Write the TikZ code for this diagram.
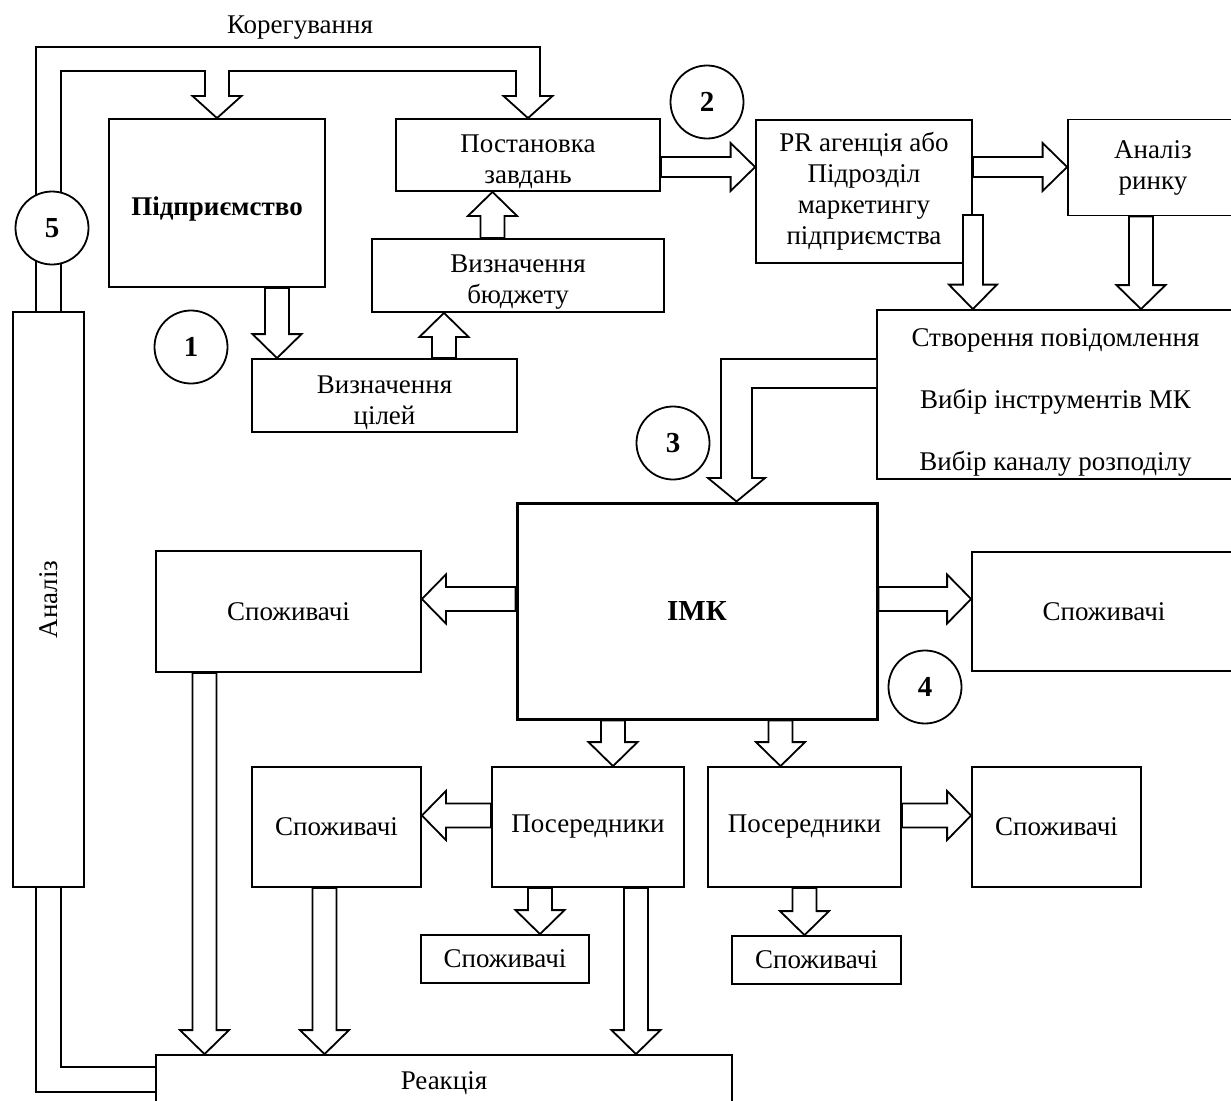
\documentclass[tikz,border=0pt]{standalone}
\usepackage{fontspec}
\setmainfont{Liberation Serif}
\usetikzlibrary{calc}

% block ("hollow") arrow: shaft half-width, head half-width, head length, start, tip
\newcommand\barrowx[5]{%
  \coordinate (bS) at (#4);
  \coordinate (bT) at (#5);
  \coordinate (bH) at ($(bT)!#3!(bS)$);
  \filldraw[flow, fill=white]
    ($(bS)!#1!90:(bT)$) -- ($(bH)!#1!90:(bT)$) -- ($(bH)!#2!90:(bT)$) -- (bT)
    -- ($(bH)!#2!-90:(bT)$) -- ($(bH)!#1!-90:(bT)$) -- ($(bS)!#1!-90:(bT)$) -- cycle;}
\newcommand\barrow[2]{\barrowx{12bp}{24.5bp}{24bp}{#1}{#2}}
\newcommand\barrowthin[2]{\barrowx{10bp}{24bp}{24.5bp}{#1}{#2}}

\tikzset{
  flow/.style={line width=1.8bp, line join=miter},
  txt/.style={inner sep=0pt, align=center, font=\fontsize{27bp}{31bp}\selectfont},
  blk/.style={draw, line width=1.8bp, fill=white, inner sep=0pt, align=center,
              font=\fontsize{27bp}{31bp}\selectfont},
  num/.style={draw, circle, line width=1.8bp, fill=white, minimum size=73bp,
              inner sep=0pt, font=\bfseries\fontsize{29bp}{30bp}\selectfont},
}

\begin{document}
\begin{tikzpicture}[x=1bp, y=-1bp]
\useasboundingbox (0,0) rectangle (1231,1101);
\fill[white] (0,0) rectangle (1231,1101);
\clip (0,0) rectangle (1231,1101);

% ---- blocks ----
\node[blk, minimum width=216bp, minimum height=168bp,
      label={[txt, font=\bfseries\fontsize{27bp}{31bp}\selectfont, yshift=-6bp]center:Підприємство}]
  (ent) at (217,203) {};
\node[blk, minimum width=264bp, minimum height=72bp,
      label={[txt, yshift=-7bp]center:{Постановка\\завдань}}] (tasks) at (528,155) {};
\node[blk, minimum width=292bp, minimum height=73bp,
      label={[txt, yshift=-7bp]center:{Визначення\\бюджету}}] (budget) at (518,275.5) {};
\node[blk, minimum width=265bp, minimum height=73bp,
      label={[txt, yshift=-7bp]center:{Визначення\\цілей}}] (goals) at (384.5,395.5) {};
\node[blk, minimum width=216bp, minimum height=143bp] (pr) at (864,191.5)
  {PR агенція або\\Підрозділ\\маркетингу\\підприємства};
\node[blk, minimum width=170bp, minimum height=96bp] (market) at (1153,167.5) {Аналіз\\ринку};
\node[blk, minimum width=357bp, minimum height=169bp,
      label={[txt, font=\fontsize{27bp}{62bp}\selectfont, yshift=-8bp]center:{Створення повідомлення\\Вибір інструментів МК\\Вибір каналу розподілу}}]
  (create) at (1055.5,394.5) {};
\node[blk, line width=3bp, minimum width=360bp, minimum height=216bp,
      font=\bfseries\fontsize{29bp}{32bp}\selectfont] (imk) at (697,611) {ІМК};
\node[blk, minimum width=265bp, minimum height=121bp] (consL) at (288.5,611.5) {Споживачі};
\node[blk, minimum width=264bp, minimum height=119bp] (consR) at (1104,611.5) {Споживачі};
\node[blk, minimum width=169bp, minimum height=120bp] (consM) at (336.5,827) {Споживачі};
\node[blk, minimum width=192bp, minimum height=120bp] (medL) at (588,827) {Посередники};
\node[blk, minimum width=193bp, minimum height=120bp] (medR) at (804.5,827) {Посередники};
\node[blk, minimum width=169bp, minimum height=120bp] (consRR) at (1056.5,827) {Споживачі};
\node[blk, minimum width=168bp, minimum height=48bp] (smallL) at (505,959) {Споживачі};
\node[blk, minimum width=169bp, minimum height=48bp] (smallR) at (816.5,960) {Споживачі};
\node[blk, minimum width=576bp, minimum height=56bp] (react) at (444,1083) {Реакція};
\node[blk, minimum width=71bp, minimum height=575bp] (analysis) at (48.5,599.5)
  {\rotatebox{90}{Аналіз}};

\node[txt] (corr) at (300,28) {Корегування};

% ---- feedback loop: analysis -> enterprise and task setting ----
\draw[flow] ([xshift=-12.5bp]analysis.north) -- (36,47) -- (540,47) -- (540,96)
  -- (552.5,96) -- (tasks.north) -- (503.5,96) -- (516,96) -- (516,71)
  -- (229,71) -- (229,96) -- (241.5,96) -- (ent.north) -- (192.5,96)
  -- (205,96) -- (205,71) -- (61,71) -- ([xshift=12.5bp]analysis.north);
\draw[flow] ([yshift=-9bp]react.west) -| ([xshift=-12.5bp]analysis.south);
\draw[flow] ([yshift=16bp]react.west) -| ([xshift=12.5bp]analysis.south);

% ---- planning arrows ----
\barrow{[xshift=60bp]ent.south}{bS |- goals.north}
\barrow{[xshift=59.5bp]goals.north}{bS |- budget.south}
\barrow{[xshift=-25.5bp]budget.north}{bS |- tasks.south}
\barrowthin{[yshift=-12bp]tasks.east}{bS -| pr.west}
\barrowthin{[yshift=24.5bp]pr.east}{bS -| market.west}
\barrowthin{[yshift=-23.5bp]pr.east}{bS |- create.north}
\barrow{[xshift=-12bp]market.south}{bS |- create.north}

% ---- bent arrow: message design -> IMK ----
\coordinate (k3) at ([xshift=39.5bp]imk.north);
\filldraw[flow, fill=white] ([yshift=35.5bp]create.west) -- (721,359) -- (721,478)
  -- (708,478) -- (k3) -- (765,478) -- (752,478) -- (752,388)
  -- ([yshift=6.5bp]create.west);

% ---- distribution arrows ----
\barrow{[yshift=12bp]imk.west}{bS -| consL.east}
\barrow{[yshift=12bp]imk.east}{bS -| consR.west}
\barrow{[xshift=-84bp]imk.south}{bS |- medL.north}
\barrow{[xshift=83.5bp]imk.south}{bS |- medR.north}
\barrow{[yshift=11.5bp]medL.west}{bS -| consM.east}
\barrow{[yshift=11.5bp]medR.east}{bS -| consRR.west}
\barrow{[xshift=-48bp]medL.south}{bS |- smallL.north}
\barrow{medR.south}{bS |- smallR.north}

% ---- reaction arrows ----
\barrow{[xshift=-84bp]consL.south}{bS |- react.north}
\barrow{[xshift=-12bp]consM.south}{bS |- react.north}
\barrow{[xshift=48bp]medL.south}{bS |- react.north}

% ---- stage numbers ----
\node[num] (n1) at (191,347) {1};
\node[num] (n2) at (707,102) {2};
\node[num] (n3) at (673,443) {3};
\node[num] (n4) at (925,687) {4};
\node[num] (n5) at (52,228) {5};
\end{tikzpicture}
\end{document}
